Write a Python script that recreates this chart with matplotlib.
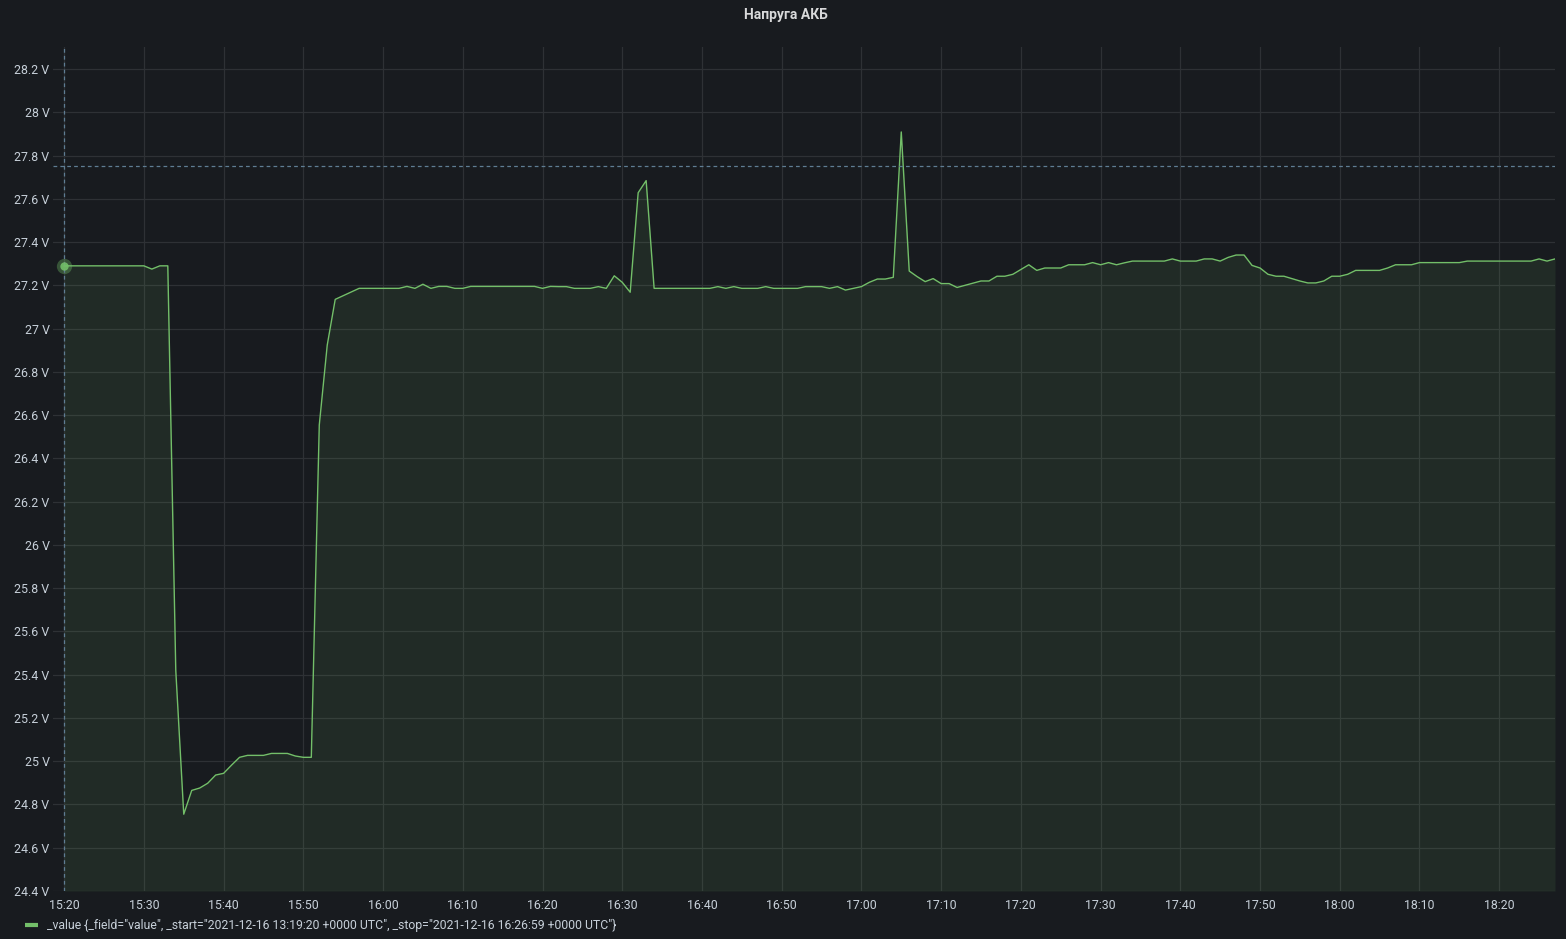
import numpy as np
import matplotlib
matplotlib.use("Agg")
import matplotlib.pyplot as plt

plt.rcParams['font.family'] = ['Roboto', 'DejaVu Sans']

# ---------------- data ----------------
title = "Напруга АКБ"
legend_label = ('_value {_field="value", _start="2021-12-16 13:19:20 +0000 UTC", '
                '_stop="2021-12-16 16:26:59 +0000 UTC"}')

# one sample per minute starting at 15:20
voltage = [
    27.29, 27.29, 27.29, 27.29, 27.29, 27.29, 27.29, 27.29, 27.29, 27.29,   # 0-9
    27.29, 27.275, 27.29, 27.29, 25.42, 24.755, 24.865, 24.876, 24.898, 24.936,  # 10-19
    24.944, 24.982, 25.018, 25.027, 25.027, 25.027, 25.036, 25.036, 25.036, 25.024,  # 20-29
    25.018, 25.018, 26.554, 26.924, 27.135, 27.152, 27.169, 27.186, 27.186, 27.186,  # 30-39
    27.186, 27.186, 27.186, 27.195, 27.186, 27.205, 27.186, 27.195, 27.195, 27.186,  # 40-49
    27.186, 27.195, 27.195, 27.195, 27.195, 27.195, 27.195, 27.195, 27.195, 27.195,  # 50-59
    27.186, 27.195, 27.194, 27.194, 27.186, 27.186, 27.186, 27.194, 27.186, 27.244,  # 60-69
    27.214, 27.168, 27.628, 27.684, 27.186, 27.186, 27.186, 27.186, 27.186, 27.186,  # 70-79
    27.186, 27.186, 27.194, 27.186, 27.194, 27.186, 27.186, 27.186, 27.194, 27.186,  # 80-89
    27.186, 27.186, 27.186, 27.194, 27.194, 27.194, 27.186, 27.194, 27.178, 27.186,  # 90-99
    27.194, 27.214, 27.229, 27.229, 27.237, 27.909, 27.266, 27.24, 27.217, 27.231,   # 100-109
    27.208, 27.208, 27.19, 27.20, 27.21, 27.22, 27.22, 27.242, 27.242, 27.251,       # 110-119
    27.273, 27.295, 27.269, 27.28, 27.28, 27.28, 27.295, 27.295, 27.295, 27.305,     # 120-129
    27.295, 27.305, 27.295, 27.304, 27.312, 27.312, 27.312, 27.312, 27.312, 27.322,  # 130-139
    27.312, 27.312, 27.312, 27.322, 27.322, 27.312, 27.329, 27.34, 27.34, 27.292,    # 140-149
    27.28, 27.251, 27.242, 27.242, 27.231, 27.22, 27.211, 27.211, 27.22, 27.242,     # 150-159
    27.242, 27.251, 27.269, 27.269, 27.269, 27.269, 27.28, 27.295, 27.295, 27.295,   # 160-169
    27.305, 27.305, 27.305, 27.305, 27.305, 27.305, 27.312, 27.312, 27.312, 27.312,  # 170-179
    27.312, 27.312, 27.312, 27.312, 27.312, 27.322, 27.312, 27.322,                  # 180-187
]

x_tick_minutes = [0, 10, 20, 30, 40, 50, 60, 70, 80, 90, 100, 110, 120, 130, 140, 150, 160, 170, 180]
x_tick_labels = ["15:20", "15:30", "15:40", "15:50", "16:00", "16:10", "16:20", "16:30", "16:40",
                 "16:50", "17:00", "17:10", "17:20", "17:30", "17:40", "17:50", "18:00", "18:10", "18:20"]
y_ticks = [24.4, 24.6, 24.8, 25.0, 25.2, 25.4, 25.6, 25.8, 26.0, 26.2,
           26.4, 26.6, 26.8, 27.0, 27.2, 27.4, 27.6, 27.8, 28.0, 28.2]
threshold = 27.75

# ---------------- style ----------------
BG = "#181b1f"
GREEN = "#73bf69"
TEXT = "#c7d0d9"
GRID = "#2e3135"
DASH = "#5f7d93"

W, H = 1566, 939
fig = plt.figure(figsize=(W / 100, H / 100), dpi=100, facecolor=BG)
left, right, top, bottom = 53, 1555, 47, 891
ax = fig.add_axes([left / W, (H - bottom) / H, (right - left) / W, (bottom - top) / H])
ax.set_facecolor(BG)

minutes = np.arange(len(voltage))
vals = np.array(voltage)

ymin = 24.4
ymax = 28.2 + (69 - top) / 216.3
ax.set_ylim(ymin, ymax)
ax.set_xlim(-1.4, len(voltage) - 1)

ax.fill_between(minutes, vals, ymin, color=GREEN, alpha=0.10, linewidth=0, zorder=2)
ax.plot(minutes, vals, color=GREEN, lw=1.0, zorder=3)

# hover point
ax.plot([minutes[0]], [vals[0]], 'o', ms=11, color=GREEN, alpha=0.35, mew=0, zorder=4, clip_on=False)
ax.plot([minutes[0]], [vals[0]], 'o', ms=6, color=GREEN, alpha=0.9, mew=0, zorder=5, clip_on=False)

# dashed crosshair lines
ax.axvline(minutes[0], color=DASH, lw=0.9, ls=(0, (3, 2.5)), zorder=4)
ax.axhline(threshold, color=DASH, lw=0.9, ls=(0, (3, 2.5)), zorder=4)

ax.set_xticks(x_tick_minutes)
ax.set_xticklabels(x_tick_labels)
ax.set_yticks(y_ticks)
ax.set_yticklabels([f"{v:g} V" for v in y_ticks])

ax.grid(True, color=GRID, lw=0.9, zorder=1)
ax.set_axisbelow(True)
for s in ax.spines.values():
    s.set_visible(False)
ax.tick_params(axis='both', length=0, colors=TEXT, labelsize=8.9)
ax.tick_params(axis='x', pad=6)
ax.tick_params(axis='y', pad=2.5)

fig.text(786 / W, 1 - 15 / H, title, ha='center', va='center', color="#d8d9da",
         fontsize=10, fontweight='bold')

# legend
fig.add_artist(plt.Line2D([25 / W, 38 / W], [1 - 925 / H, 1 - 925 / H], color=GREEN, lw=3,
                          solid_capstyle='butt', transform=fig.transFigure))
fig.text(47 / W, 1 - 925 / H, legend_label, ha='left', va='center', color=TEXT, fontsize=8.85)

fig.savefig("out.png", dpi=100, facecolor=BG)
